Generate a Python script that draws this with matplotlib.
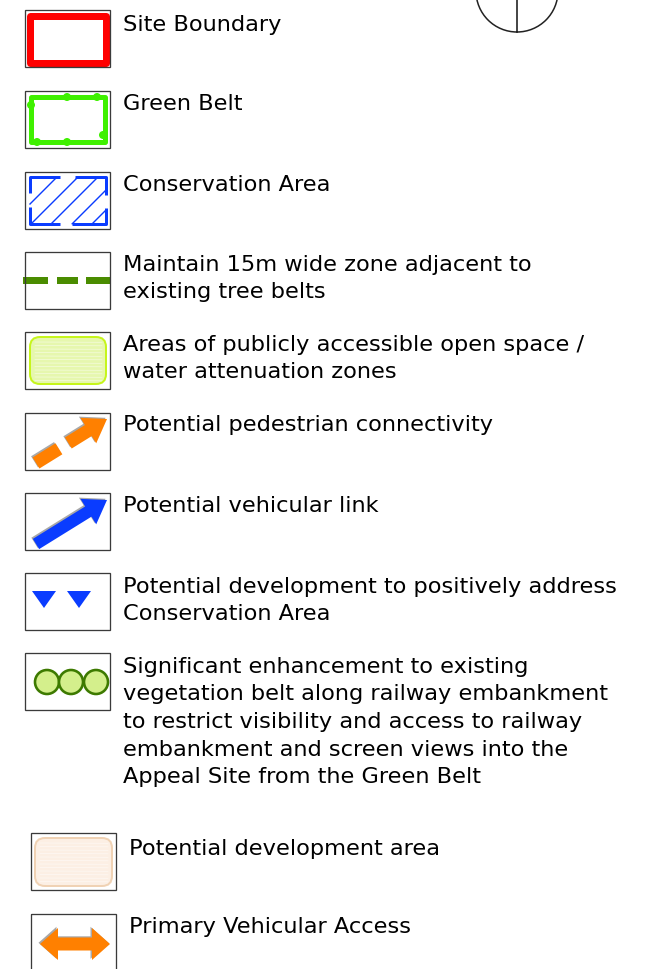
import matplotlib.pyplot as plt
import numpy as np
from matplotlib.patches import Rectangle, FancyBboxPatch, Polygon, Circle

# Legend entries: text lines for each row
labels = [
    ["Site Boundary"],
    ["Green Belt"],
    ["Conservation Area"],
    ["Maintain 15m wide zone adjacent to", "existing tree belts"],
    ["Areas of publicly accessible open space /", "water attenuation zones"],
    ["Potential pedestrian connectivity"],
    ["Potential vehicular link"],
    ["Potential development to positively address", "Conservation Area"],
    ["Significant enhancement to existing",
     "vegetation belt along railway embankment",
     "to restrict visibility and access to railway",
     "embankment and screen views into the",
     "Appeal Site from the Green Belt"],
    ["Potential development area"],
    ["Primary Vehicular Access"],
]
symbols = ["site", "greenbelt", "conservation", "treebelt", "openspace",
           "pedestrian", "vehicular", "triangles", "vegetation", "devarea", "access"]

# layout (pixels)
box_x = [25] * 9 + [31, 31]
box_top = [10, 91, 172, 252, 332, 413, 493, 573, 653, 833, 914]
text_x = [123] * 9 + [129, 129]
first_base = [31, 110, 191, 271, 351, 431, 512, 593, 673, 855, 933]
BW, BH = 85, 57
LINE = 27.5

fig = plt.figure(figsize=(6.51, 9.69), dpi=100)
ax = fig.add_axes([0, 0, 1, 1])
ax.set_xlim(0, 651)
ax.set_ylim(969, 0)
ax.axis("off")

PX = 0.72  # points per pixel at 100 dpi


def arrow_poly(x0, y0, x1, y1, shaft_w, head_w, head_l, t0=0.0, t1=None):
    d = np.array([x1 - x0, y1 - y0], float)
    L = np.hypot(*d)
    u = d / L
    n = np.array([-u[1], u[0]])
    p0 = np.array([x0, y0], float)
    hb = L - head_l
    a = p0 + u * t0
    if t1 is None:
        # shaft from t0 to head base, then head
        b = p0 + u * hb
        pts = [a + n * shaft_w / 2, b + n * shaft_w / 2, b + n * head_w / 2,
               p0 + u * L, b - n * head_w / 2, b - n * shaft_w / 2, a - n * shaft_w / 2]
    else:
        b = p0 + u * t1
        pts = [a + n * shaft_w / 2, b + n * shaft_w / 2, b - n * shaft_w / 2, a - n * shaft_w / 2]
    return np.array(pts)


def draw_arrow_parts(parts, color):
    for p in parts:
        ax.add_patch(Polygon(p + np.array([-1.5, -1.2]), closed=True, fc="#a8a8a8", ec="none", zorder=2))
    for p in parts:
        ax.add_patch(Polygon(p, closed=True, fc=color, ec="none", zorder=3))


def draw_symbol(kind, bx, by):
    if kind == "site":
        ax.add_patch(Rectangle((bx + 4.5, by + 5.5), 76, 47, fill=False, ec="#ff0000",
                               lw=7 * PX, joinstyle="round", zorder=3))
    elif kind == "greenbelt":
        g = "#3ff000"
        ax.add_patch(Rectangle((bx + 5.5, by + 6), 74, 45, fill=False, ec=g,
                               lw=5 * PX, joinstyle="round", zorder=3))
        for cx, cy in [(42, 6), (72, 6), (6, 14), (12, 51), (42, 51), (78, 44)]:
            ax.add_patch(Circle((bx + cx, by + cy), 4, fc=g, ec="none", zorder=3))
    elif kind == "conservation":
        b = "#0a3cff"
        lw = 3 * PX
        x0, x1, y0, y1 = bx + 5, bx + 81, by + 5, by + 52
        segs = [[(x0 + 30, y0), (x0, y0), (x0, y0 + 16)],
                [(x1 - 31, y0), (x1, y0), (x1, y0 + 18)],
                [(x0, y1 - 17), (x0, y1), (x0 + 30, y1)],
                [(x1, y1 - 16), (x1, y1), (x1 - 34, y1)]]
        for s in segs:
            xs, ys = zip(*s)
            ax.plot(xs, ys, color=b, lw=lw, solid_capstyle="butt", zorder=3)
        xs = np.linspace(5, 81, 300)
        for c in [37, 58, 78, 99, 119]:
            ys = c - xs
            m = (ys >= 5) & (ys <= 52)
            ax.plot(bx + xs[m], by + ys[m], color=b, lw=1.4 * PX, zorder=3)
    elif kind == "treebelt":
        for a, w in [(-2, 25), (32, 21), (61, 25)]:
            ax.add_patch(Rectangle((bx + a, by + 24.5), w, 7.5, fc="#4a8c00", ec="none", zorder=3))
    elif kind == "openspace":
        ax.add_patch(FancyBboxPatch((bx + 5 + 10, by + 5 + 10), 76 - 20, 47 - 20,
                                    boxstyle="round,pad=10", fc="#e6f7ae", ec="#c6f51c",
                                    lw=2 * PX, zorder=3))
        for yy in np.arange(10, 50, 3.5):
            ax.plot([bx + 10, bx + 77], [by + yy, by + yy + 0.3], color="white", lw=0.5, alpha=0.6, zorder=3)
    elif kind == "pedestrian":
        x0, y0, x1, y1 = bx + 11, by + 50, bx + 82, by + 6
        parts = [arrow_poly(x0, y0, x1, y1, 13, 30, 22, 0, 27),
                 arrow_poly(x0, y0, x1, y1, 13, 30, 22, 38)]
        draw_arrow_parts(parts, "#ff8000")
    elif kind == "vehicular":
        x0, y0, x1, y1 = bx + 11, by + 51, bx + 82, by + 7
        draw_arrow_parts([arrow_poly(x0, y0, x1, y1, 12, 30, 22)], "#0a3cff")
    elif kind == "triangles":
        for cx in [19, 54]:
            ax.add_patch(Polygon([(bx + cx - 12, by + 18), (bx + cx + 12, by + 18), (bx + cx, by + 35)],
                                 closed=True, fc="#0a3cff", ec="none", zorder=3))
    elif kind == "vegetation":
        for cx in [22, 46, 71]:
            ax.add_patch(Circle((bx + cx, by + 29), 12, fc="#d4ef8c", ec="#3d7a00",
                                lw=2.6 * PX, zorder=3))
    elif kind == "devarea":
        ax.add_patch(FancyBboxPatch((bx + 4 + 10, by + 5 + 10), 77 - 20, 48 - 20,
                                    boxstyle="round,pad=10", fc="#fcefe4", ec="#f0d2b4",
                                    lw=2 * PX, zorder=3))
        for yy in np.arange(10, 50, 3.5):
            ax.plot([bx + 9, bx + 77], [by + yy, by + yy + 0.3], color="white", lw=0.5, alpha=0.6, zorder=3)
    elif kind == "access":
        cy = by + 30
        l, r = bx + 9, bx + 79
        hl, hw, sw = 18, 16, 6.5
        pts = [(l, cy), (l + hl, cy - hw), (l + hl, cy - sw), (r - hl, cy - sw), (r - hl, cy - hw),
               (r, cy), (r - hl, cy + hw), (r - hl, cy + sw), (l + hl, cy + sw), (l + hl, cy + hw)]
        draw_arrow_parts([np.array(pts)], "#ff8000")


for i, kind in enumerate(symbols):
    bx, by = box_x[i], box_top[i]
    ax.add_patch(Rectangle((bx, by), BW, BH, fill=False, ec="#3a3a3a", lw=1.3 * PX, zorder=4))
    draw_symbol(kind, bx, by)
    for j, line in enumerate(labels[i]):
        ax.text(text_x[i], first_base[i] + j * LINE, line, fontsize=16.2,
                family="DejaVu Sans", va="baseline", ha="left", color="black")

# north arrow fragment at top
ax.add_patch(Circle((517, -9), 41, fill=False, ec="#222222", lw=1.1, zorder=3))
ax.plot([517, 517], [-9, 32], color="#111111", lw=1.1, zorder=3)

fig.savefig("out.png", dpi=100)
